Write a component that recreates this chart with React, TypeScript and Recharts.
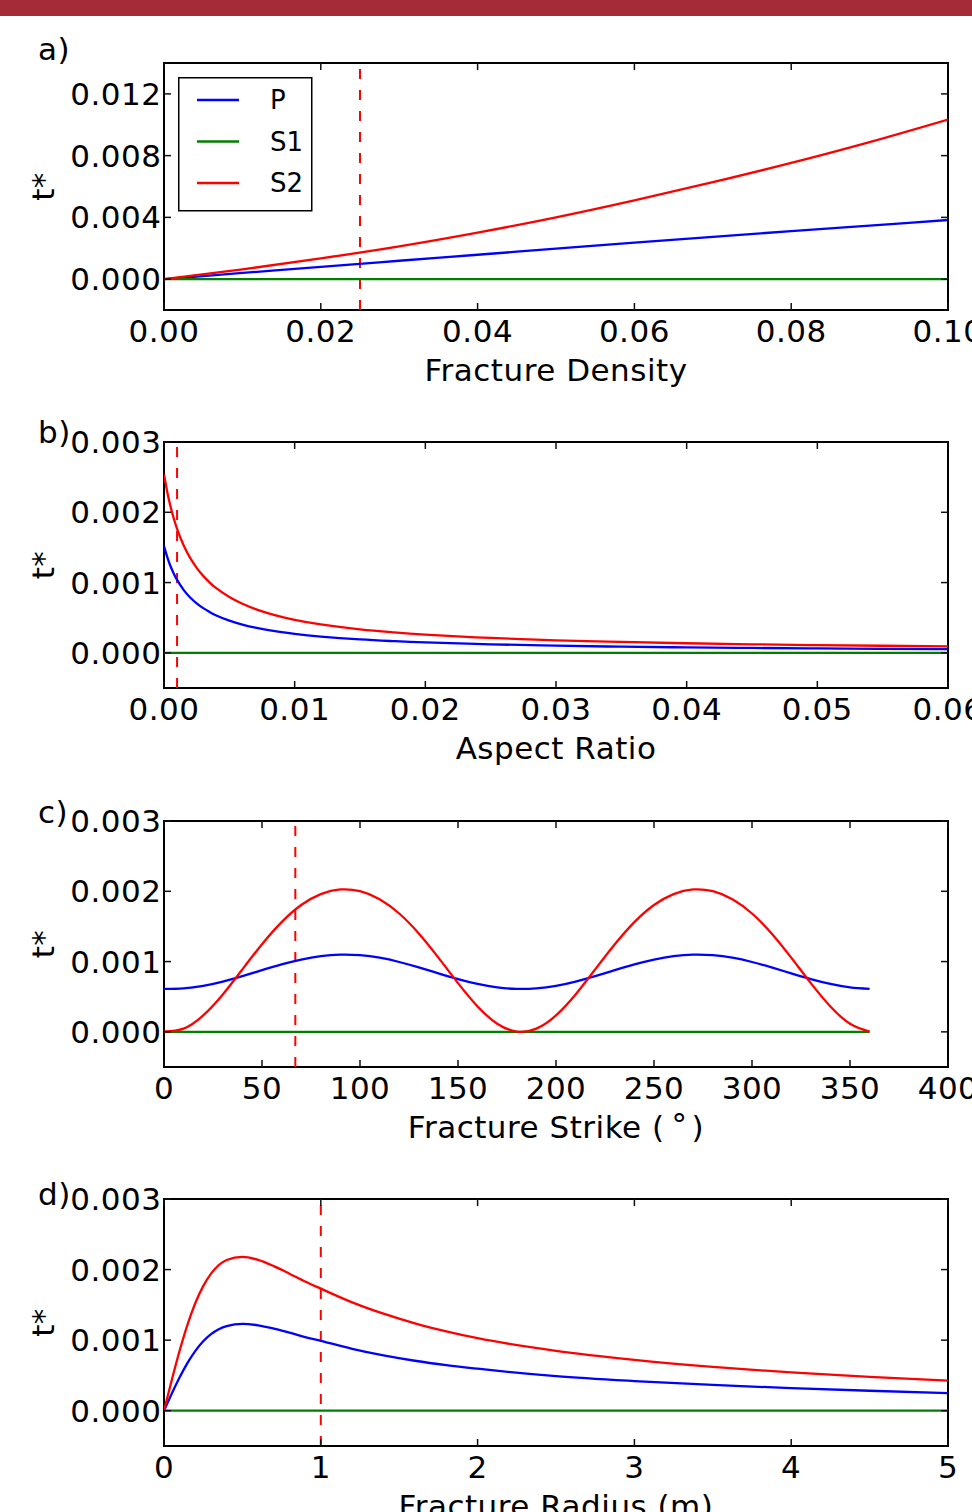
import React from 'react';
import { LineChart, Line, XAxis, YAxis, ReferenceLine, ReferenceArea, Legend } from 'recharts';

const FONT = '"DejaVu Sans", "Liberation Sans", sans-serif';
const BLUE = '#0000ff';
const GREEN = '#008000';
const RED = '#ff0000';

// a) t* against fracture density
const densityX = [0, 0.01, 0.02, 0.03, 0.04, 0.05, 0.06, 0.07, 0.08, 0.09, 0.1];
const densityP = [0, 0.0004, 0.0008, 0.00119, 0.00158, 0.00197, 0.00236, 0.00274, 0.00311, 0.00347, 0.00383];
const densityS1 = [0, 0, 0, 0, 0, 0, 0, 0, 0, 0, 0];
const densityS2 = [0, 0.00063, 0.00134, 0.00212, 0.00301, 0.004, 0.0051, 0.00628, 0.00753, 0.00888, 0.01034];
const densityTicks = [0, 0.02, 0.04, 0.06, 0.08, 0.1];
const densityMarker = 0.025;

// b) t* against aspect ratio
const aspectX = [0, 0.00025, 0.0005, 0.00075, 0.001, 0.0015, 0.002, 0.0025, 0.003, 0.0035, 0.004, 0.005, 0.006, 0.007, 0.008, 0.009, 0.01, 0.012, 0.015, 0.0175, 0.02, 0.025, 0.03, 0.035, 0.04, 0.045, 0.05, 0.055, 0.06];
const aspectP = [0.001519, 0.001361, 0.001233, 0.001127, 0.001038, 0.000896, 0.000788, 0.000704, 0.000636, 0.00058, 0.000532, 0.000458, 0.000402, 0.000358, 0.000323, 0.000294, 0.00027, 0.000232, 0.000191, 0.000167, 0.000148, 0.000121, 0.000102, 0.000088, 0.000078, 0.00007, 0.000063, 0.000057, 0.000053];
const aspectS1 = [0, 0, 0, 0, 0, 0, 0, 0, 0, 0, 0, 0, 0, 0, 0, 0, 0, 0, 0, 0, 0, 0, 0, 0, 0, 0, 0, 0, 0];
const aspectS2 = [0.002542, 0.00229, 0.002083, 0.001911, 0.001765, 0.00153, 0.001351, 0.00121, 0.001095, 0.001, 0.00092, 0.000794, 0.000698, 0.000622, 0.000562, 0.000512, 0.00047, 0.000404, 0.000334, 0.000292, 0.000259, 0.000212, 0.000179, 0.000155, 0.000137, 0.000122, 0.00011, 0.000101, 0.000093];
const aspectTicks = [0, 0.01, 0.02, 0.03, 0.04, 0.05, 0.06];
const aspectMarker = 0.001;

// c) t* against fracture strike (degrees)
const strikeX = [0, 10, 20, 30, 40, 50, 60, 70, 80, 90, 100, 110, 120, 130, 140, 150, 160, 170, 180, 190, 200, 210, 220, 230, 240, 250, 260, 270, 280, 290, 300, 310, 320, 330, 340, 350, 360];
const strikeP = [
  0.000611, 0.000619, 0.000655, 0.000716, 0.000793, 0.000878, 0.00096, 0.001029, 0.001078, 0.001099, 0.001091, 0.001055, 0.000994, 0.000917, 0.000832, 0.00075, 0.000681, 0.000632,
  0.000611, 0.000619, 0.000655, 0.000716, 0.000793, 0.000878, 0.00096, 0.001029, 0.001078, 0.001099, 0.001091, 0.001055, 0.000994, 0.000917, 0.000832, 0.00075, 0.000681, 0.000632,
  0.000611,
];
const strikeS1 = [0, 0, 0, 0, 0, 0, 0, 0, 0, 0, 0, 0, 0, 0, 0, 0, 0, 0, 0, 0, 0, 0, 0, 0, 0, 0, 0, 0, 0, 0, 0, 0, 0, 0, 0, 0, 0];
const strikeS2 = [
  0.000004, 0.000046, 0.000234, 0.000532, 0.000889, 0.001247, 0.001562, 0.001805, 0.00196, 0.002026, 0.002001, 0.001887, 0.001684, 0.0014, 0.001056, 0.000693, 0.000361, 0.000116,
  0.000004, 0.000046, 0.000234, 0.000532, 0.000889, 0.001247, 0.001562, 0.001805, 0.00196, 0.002026, 0.002001, 0.001887, 0.001684, 0.0014, 0.001056, 0.000693, 0.000361, 0.000116,
  0.000004,
];
const strikeTicks = [0, 50, 100, 150, 200, 250, 300, 350, 400];
const strikeMarker = 67;

// d) t* against fracture radius (m)
const radiusX = [0, 0.05, 0.1, 0.15, 0.2, 0.25, 0.3, 0.4, 0.5, 0.6, 0.7, 0.8, 0.9, 1.0, 1.2, 1.4, 1.6, 1.8, 2.0, 2.5, 3.0, 3.5, 4.0, 4.5, 5.0];
const radiusP = [0, 0.000244, 0.000473, 0.000677, 0.000848, 0.000984, 0.001085, 0.0012, 0.00123, 0.00121, 0.001164, 0.001106, 0.001044, 0.00099, 0.000877, 0.000784, 0.000708, 0.000646, 0.000595, 0.00049, 0.00042, 0.000365, 0.00032, 0.000283, 0.00025];
const radiusS1 = [0, 0, 0, 0, 0, 0, 0, 0, 0, 0, 0, 0, 0, 0, 0, 0, 0, 0, 0, 0, 0, 0, 0, 0, 0];
const radiusS2 = [0, 0.00044, 0.000854, 0.001221, 0.001526, 0.001765, 0.001942, 0.002136, 0.00218, 0.002137, 0.002049, 0.001942, 0.001831, 0.00173, 0.001536, 0.001375, 0.001239, 0.001125, 0.001028, 0.000848, 0.00072, 0.000621, 0.000542, 0.000479, 0.000427];
const radiusTicks = [0, 1, 2, 3, 4, 5];
const radiusMarker = 1;

const bigYTicks = [0, 0.004, 0.008, 0.012];
const smallYTicks = [0, 0.001, 0.002, 0.003];

const makeRows = (xs: number[], p: number[], s1: number[], s2: number[]) =>
  xs.map((x, i) => ({ x, p: p[i], s1: s1[i], s2: s2[i] }));

// layout
const W = 972;
const PLOT_LEFT = 164;
const RIGHT_GAP = 24;
const PLOT_W = W - PLOT_LEFT - RIGHT_GAP;
const TOP_PAD = 45;
const BOTTOM_PAD = 90;
const TICK_LEN = 7;
const FS = 31;
const LS = 0.5;

const panels = [
  {
    letter: 'a)', letterY: 49, plotTop: 63, plotH: 247, rows: makeRows(densityX, densityP, densityS1, densityS2),
    xDomain: [0, 0.1], xTicks: densityTicks, xDigits: 2, yDomain: [-0.002, 0.014], yTicks: bigYTicks,
    marker: densityMarker, curve: 'monotone', legend: true, title: <tspan>Fracture Density</tspan>,
  },
  {
    letter: 'b)', letterY: 432, plotTop: 442, plotH: 246, rows: makeRows(aspectX, aspectP, aspectS1, aspectS2),
    xDomain: [0, 0.06], xTicks: aspectTicks, xDigits: 2, yDomain: [-0.0005, 0.003], yTicks: smallYTicks,
    marker: aspectMarker, curve: 'natural', legend: false, title: <tspan>Aspect Ratio</tspan>,
  },
  {
    letter: 'c)', letterY: 812, plotTop: 821, plotH: 246, rows: makeRows(strikeX, strikeP, strikeS1, strikeS2),
    xDomain: [0, 400], xTicks: strikeTicks, xDigits: 0, yDomain: [-0.0005, 0.003], yTicks: smallYTicks,
    marker: strikeMarker, curve: 'natural', legend: false,
    title: (
      <>
        <tspan>Fracture Strike (</tspan>
        <tspan dx={7} dy={-3}>°</tspan>
        <tspan dx={4} dy={3}>)</tspan>
      </>
    ),
  },
  {
    letter: 'd)', letterY: 1194, plotTop: 1199, plotH: 247, rows: makeRows(radiusX, radiusP, radiusS1, radiusS2),
    xDomain: [0, 5], xTicks: radiusTicks, xDigits: 0, yDomain: [-0.0005, 0.003], yTicks: smallYTicks,
    marker: radiusMarker, curve: 'monotone', legend: false, title: <tspan>Fracture Radius (m)</tspan>,
  },
];

const XTick = ({ x, y, payload, plotH, digits }: any) => (
  <g>
    <line x1={x} x2={x} y1={y} y2={y - TICK_LEN} stroke="#111" strokeWidth={1.5} />
    <line x1={x} x2={x} y1={y - plotH} y2={y - plotH + TICK_LEN} stroke="#111" strokeWidth={1.5} />
    <text x={x} y={y + 21} textAnchor="middle" dominantBaseline="central" fontFamily={FONT} fontSize={FS} letterSpacing={LS} fill="#000">
      {Number(payload.value).toFixed(digits)}
    </text>
  </g>
);

const YTick = ({ x, y, payload }: any) => (
  <g>
    <line x1={x} x2={x + TICK_LEN} y1={y} y2={y} stroke="#111" strokeWidth={1.5} />
    <line x1={x + PLOT_W} x2={x + PLOT_W - TICK_LEN} y1={y} y2={y} stroke="#111" strokeWidth={1.5} />
    <text x={x - 2.5} y={y} textAnchor="end" dominantBaseline="central" fontFamily={FONT} fontSize={FS} letterSpacing={LS} fill="#000">
      {Number(payload.value).toFixed(3)}
    </text>
  </g>
);

const LegendBox = (props: any) => {
  const items = props.payload || [];
  return (
    <svg width={135} height={135} style={{ display: 'block' }}>
      <rect x={0.75} y={0.75} width={133} height={133} fill="#fff" stroke="#000" strokeWidth={1.5} />
      {items.map((item: any, i: number) => (
        <g key={item.value}>
          <line x1={19} x2={61} y1={23 + i * 41.5} y2={23 + i * 41.5} stroke={item.color} strokeWidth={2.3} />
          <text x={92} y={23 + i * 41.5} dominantBaseline="central" fontFamily={FONT} fontSize={26} fill="#000">
            {item.value}
          </text>
        </g>
      ))}
    </svg>
  );
};

function Panel({ cfg }: { cfg: any }) {
  const top = cfg.plotTop - TOP_PAD;
  const height = TOP_PAD + cfg.plotH + BOTTOM_PAD;
  return (
    <div style={{ position: 'absolute', left: 0, top }}>
      <LineChart width={W} height={height} data={cfg.rows} margin={{ top: TOP_PAD, right: RIGHT_GAP, bottom: 0, left: 0 }}>
        <XAxis
          dataKey="x" type="number" domain={cfg.xDomain} ticks={cfg.xTicks} allowDataOverflow interval={0}
          height={BOTTOM_PAD} tickSize={0} tickMargin={0} tickLine={false} axisLine={false}
          tick={(p: any) => <XTick {...p} plotH={cfg.plotH} digits={cfg.xDigits} />}
        />
        <YAxis
          type="number" domain={cfg.yDomain} ticks={cfg.yTicks} allowDataOverflow interval={0}
          width={PLOT_LEFT} tickSize={0} tickMargin={0} tickLine={false} axisLine={false}
          tick={(p: any) => <YTick {...p} />}
        />
        <ReferenceLine x={cfg.marker} stroke={RED} strokeWidth={2} strokeDasharray="10 11" />
        <Line type={cfg.curve} dataKey="p" name="P" stroke={BLUE} strokeWidth={2.3} dot={false} isAnimationActive={false} />
        <Line type={cfg.curve} dataKey="s1" name="S1" stroke={GREEN} strokeWidth={2.3} dot={false} isAnimationActive={false} />
        <Line type={cfg.curve} dataKey="s2" name="S2" stroke={RED} strokeWidth={2.3} dot={false} isAnimationActive={false} />
        <ReferenceArea
          x1={cfg.xDomain[0]} x2={cfg.xDomain[1]} y1={cfg.yDomain[0]} y2={cfg.yDomain[1]}
          fill="none" fillOpacity={0} stroke="#000" strokeWidth={2}
        />
        {cfg.legend && (
          <Legend
            layout="vertical" align="center" verticalAlign="middle"
            wrapperStyle={{ left: 178, top: 77 - top, width: 135, height: 135 }}
            content={LegendBox}
          />
        )}
      </LineChart>
    </div>
  );
}

export default function App() {
  return (
    <div style={{ position: 'absolute', left: 0, top: 0, width: W, height: 1512, overflow: 'hidden', background: '#fff' }}>
      <div style={{ position: 'absolute', left: 0, top: 0, width: W, height: 16, background: '#a62b38' }} />
      {panels.map((cfg) => (
        <Panel key={cfg.letter} cfg={cfg} />
      ))}
      <svg width={W} height={1512} style={{ position: 'absolute', left: 0, top: 0, pointerEvents: 'none' }}>
        {panels.map((cfg) => {
          const cy = cfg.plotTop + cfg.plotH / 2;
          return (
            <g key={cfg.letter} fontFamily={FONT} fontSize={FS} letterSpacing={LS} fill="#000">
              <text x={38} y={cfg.letterY} dominantBaseline="central">{cfg.letter}</text>
              <text x={43} y={cy} textAnchor="middle" dominantBaseline="central" transform={`rotate(-90, 43, ${cy})`}>t*</text>
              <text x={PLOT_LEFT + PLOT_W / 2} y={cfg.plotTop + cfg.plotH + 60} textAnchor="middle" dominantBaseline="central">
                {cfg.title}
              </text>
            </g>
          );
        })}
      </svg>
    </div>
  );
}
